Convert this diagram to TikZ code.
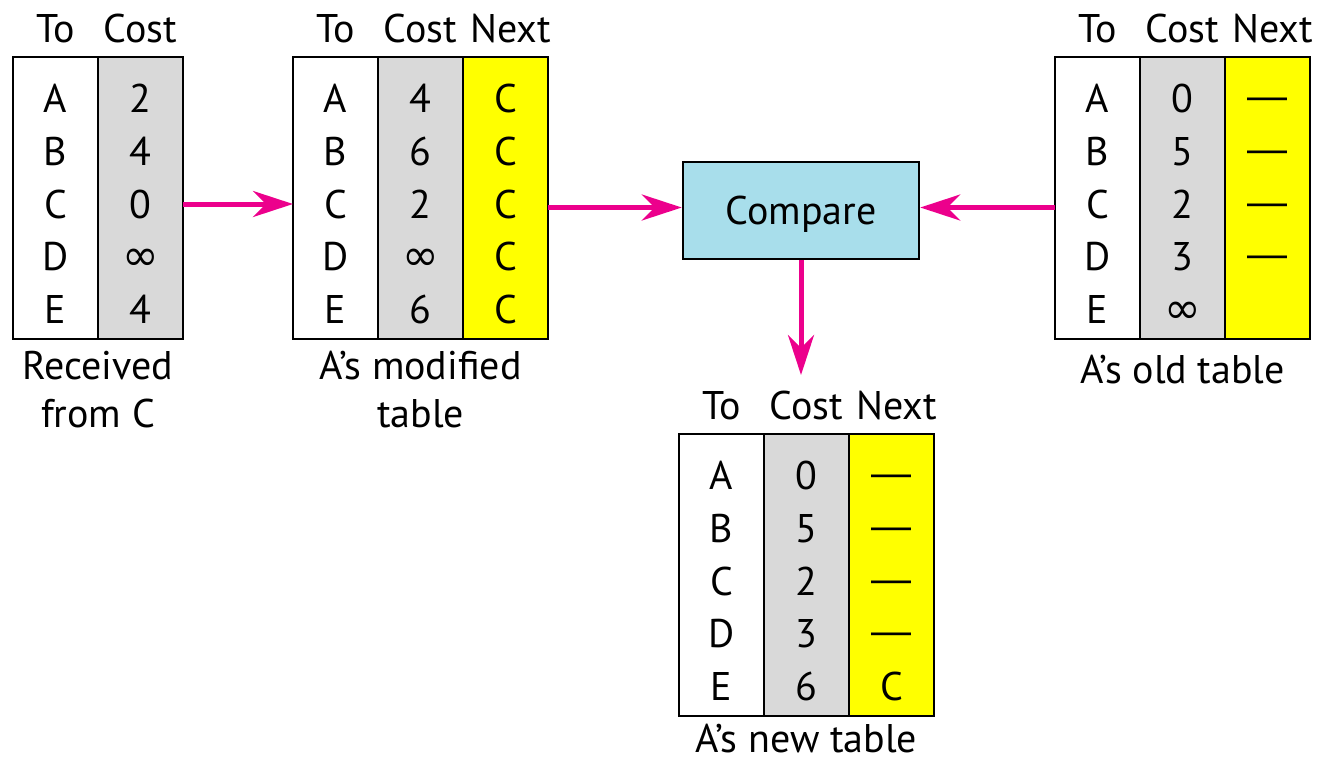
\documentclass[tikz,border=0pt]{standalone}
\usepackage{fontspec}
\setmainfont{PT Sans}
\newfontfamily\symfont{DejaVu Sans}
\newfontfamily\dashfont{Liberation Sans}
\usetikzlibrary{positioning}
\usetikzlibrary{arrows.meta}

\definecolor{arrowpink}{RGB}{236,0,140}
\definecolor{cmpblue}{RGB}{168,222,235}
\definecolor{costgray}{RGB}{217,217,217}
\definecolor{nextyellow}{RGB}{255,255,0}
\newcommand{\infsym}{{\symfont\fontsize{44}{44}\selectfont ∞}}
\newcommand{\nohop}{{\dashfont\raisebox{3pt}{—}}}

\begin{document}
\begin{tikzpicture}[x = 1pt, y = -1pt]
  \tikzstyle{column}=[
      rectangle, minimum width = 85pt, minimum height = 282pt
    , draw = black, line width = 2.5pt
    , inner sep = 0pt, outer sep = 0pt
    ]
  \tikzstyle{tocol}=[column, fill = white]
  \tikzstyle{costcol}=[column, fill = costgray]
  \tikzstyle{nextcol}=[column, fill = nextyellow]
  \tikzstyle{entry}=[
      inner sep = 0pt, text height = 28pt, text depth = 0pt
    , font = \fontsize{40}{48}\selectfont
    ]
  \tikzstyle{heading}=[entry, node distance = 14.5pt]
  \tikzstyle{caption}=[
      inner sep = 0pt, align = center
    , font = \fontsize{40}{48}\selectfont
    , node distance = 12pt
    ]
  \tikzstyle{compare}=[
      rectangle, minimum width = 236pt, minimum height = 97pt
    , draw = black, line width = 2.5pt, fill = cmpblue
    , inner sep = 0pt, text height = 28pt, text depth = 0pt
    , font = \fontsize{40}{48}\selectfont
    ]
  \tikzstyle{connect}=[
      -{Stealth[length = 40pt, width = 26pt, inset = 13pt]}
    , line width = 5pt, draw = arrowpink
    ]

  \useasboundingbox (0, 0) rectangle (1321, 761);

  % received from C
  \node[tocol, anchor = north west] (rto) at (13, 57) { };
  \node[costcol, right = 0pt of rto] (rcost) { };
  \node[heading, above = of rto.north] (rtohead) {To};
  \node[heading, above = of rcost.north] (rcosthead) {Cost};
  \foreach \n [count = \i] in {A, B, C, D, E}
    \node[entry] (rto\i) at ([yshift = {-41.5pt - (\i - 1) * 52.75pt}] rto.north) {\n};
  \foreach \c [count = \i] in {2, 4, 0, \infsym, 4}
    \node[entry] (rcost\i) at ([yshift = {-41.5pt - (\i - 1) * 52.75pt}] rcost.north) {\c};
  \node[caption, below = of rto.south east] (rcap) {Received\\from C};

  % modified table
  \node[tocol, anchor = north west] (mto) at (293, 57) { };
  \node[costcol, right = 0pt of mto] (mcost) { };
  \node[nextcol, right = 0pt of mcost] (mnext) { };
  \node[heading, above = of mto.north] (mtohead) {To};
  \node[heading, above = of mcost.north] (mcosthead) {Cost};
  \node[heading, above = of mnext.north, xshift = 5pt] (mnexthead) {Next};
  \foreach \n [count = \i] in {A, B, C, D, E}
    \node[entry] (mto\i) at ([yshift = {-41.5pt - (\i - 1) * 52.75pt}] mto.north) {\n};
  \foreach \c [count = \i] in {4, 6, 2, \infsym, 6}
    \node[entry] (mcost\i) at ([yshift = {-41.5pt - (\i - 1) * 52.75pt}] mcost.north) {\c};
  \foreach \x [count = \i] in {C, C, C, C, C}
    \node[entry] (mnext\i) at ([yshift = {-41.5pt - (\i - 1) * 52.75pt}] mnext.north) {\x};
  \node[caption, below = of mcost.south] (mcap) {A’s modified\\table};

  % old table
  \node[tocol, anchor = north west] (oto) at (1055, 57) { };
  \node[costcol, right = 0pt of oto] (ocost) { };
  \node[nextcol, right = 0pt of ocost] (onext) { };
  \node[heading, above = of oto.north] (otohead) {To};
  \node[heading, above = of ocost.north] (ocosthead) {Cost};
  \node[heading, above = of onext.north, xshift = 5pt] (onexthead) {Next};
  \foreach \n [count = \i] in {A, B, C, D, E}
    \node[entry] (oto\i) at ([yshift = {-41.5pt - (\i - 1) * 52.75pt}] oto.north) {\n};
  \foreach \c [count = \i] in {0, 5, 2, 3, \infsym}
    \node[entry] (ocost\i) at ([yshift = {-41.5pt - (\i - 1) * 52.75pt}] ocost.north) {\c};
  \foreach \x [count = \i] in {\nohop, \nohop, \nohop, \nohop}
    \node[entry] (onext\i) at ([yshift = {-41.5pt - (\i - 1) * 52.75pt}] onext.north) {\x};
  \node[caption, below = 16pt of ocost.south] (ocap) {A’s old table};

  % new table
  \node[tocol, anchor = north west] (nto) at (679, 434) { };
  \node[costcol, right = 0pt of nto] (ncost) { };
  \node[nextcol, right = 0pt of ncost] (nnext) { };
  \node[heading, above = of nto.north] (ntohead) {To};
  \node[heading, above = of ncost.north] (ncosthead) {Cost};
  \node[heading, above = of nnext.north, xshift = 5pt] (nnexthead) {Next};
  \foreach \n [count = \i] in {A, B, C, D, E}
    \node[entry] (nto\i) at ([yshift = {-41.5pt - (\i - 1) * 52.75pt}] nto.north) {\n};
  \foreach \c [count = \i] in {0, 5, 2, 3, 6}
    \node[entry] (ncost\i) at ([yshift = {-41.5pt - (\i - 1) * 52.75pt}] ncost.north) {\c};
  \foreach \x [count = \i] in {\nohop, \nohop, \nohop, \nohop, C}
    \node[entry] (nnext\i) at ([yshift = {-41.5pt - (\i - 1) * 52.75pt}] nnext.north) {\x};
  \node[caption, below = 8pt of ncost.south] (ncap) {A’s new table};

  % compare
  \node[compare] (cmp) at (801, 210.5) {Compare};
  \coordinate (cmpin) at ([yshift = 3pt] cmp.west);
  \coordinate (cmpout) at ([yshift = 3pt] cmp.east);
  \coordinate (newin) at (801, 375);

  \path (rcost.east |- rcost3) edge [connect] (mto.west |- rcost3);
  \path (mnext.east |- cmpin) edge [connect] (cmpin);
  \path (oto.west |- cmpout) edge [connect] (cmpout);
  \path (cmp.south) edge [connect] (newin);

\end{tikzpicture}
\end{document}
